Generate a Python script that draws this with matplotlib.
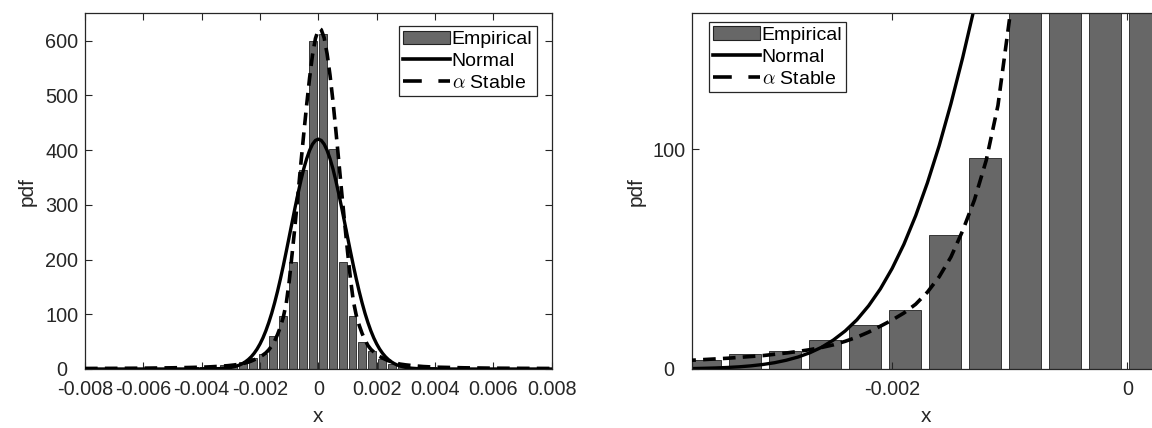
import numpy as np
import matplotlib
matplotlib.use('Agg')
import matplotlib.pyplot as plt
from matplotlib.patches import Patch
from matplotlib.lines import Line2D

plt.rcParams['font.family'] = ['Liberation Sans', 'DejaVu Sans']
plt.rcParams['axes.unicode_minus'] = False
plt.rcParams['mathtext.fontset'] = 'cm'

# histogram (empirical pdf)
bin_width = 0.00034
first_center = -0.00801
emp_pdf = [1, 1, 0.5, 1, 1.5, 1, 1.5, 2, 1.5, 2, 2.5, 3,
           3, 4, 7, 8, 13, 20, 27, 61, 96, 195, 364, 600,
           613, 402, 195, 97, 50, 33, 18, 10, 6, 4, 3, 3,
           2, 2, 1.5, 1.5, 1, 1, 1.5, 1, 1, 0.5, 1, 1]
bin_centers = first_center + bin_width * np.arange(len(emp_pdf))

# fitted normal pdf
norm_x = [-0.008, -0.006, -0.005, -0.004, -0.0037, -0.0036, -0.0035, -0.0034,
          -0.0033, -0.0032, -0.0031, -0.003, -0.0029, -0.0028, -0.0027,
          -0.0026, -0.0025, -0.0024, -0.0023, -0.0022, -0.0021, -0.002,
          -0.0019, -0.0018, -0.0017, -0.0016, -0.0015, -0.0014, -0.0013,
          -0.0012, -0.0011, -0.001, -0.0009, -0.0008, -0.0007, -0.0006,
          -0.0005, -0.0004, -0.0003, -0.0002, -0.0001, 0.0,
          0.0001, 0.0002, 0.0003, 0.0004, 0.0005, 0.0006, 0.0007, 0.0008,
          0.0009, 0.001, 0.0011, 0.0012, 0.0013, 0.0014, 0.0015, 0.0016,
          0.0017, 0.0018, 0.0019, 0.002, 0.0021, 0.0022, 0.0023, 0.0024,
          0.0025, 0.0026, 0.0027, 0.0028, 0.0029, 0.003, 0.0032, 0.0034,
          0.0036, 0.004, 0.005, 0.006, 0.008]
norm_pdf = [0, 0, 0, 0.06, 0.2, 0.32, 0.47, 0.7,
            1.0, 1.45, 2.05, 2.87, 4.0, 5.46, 7.4,
            9.9, 13.2, 17.3, 22.4, 28.8, 36.5, 45.8,
            56.8, 69.8, 84.8, 101.7, 120.8, 141.8, 164.7,
            189.1, 214.9, 241.4, 268, 294.6, 320, 344,
            366, 384.3, 399.5, 410.8, 417.7, 420,
            417.7, 410.8, 399.5, 384.3, 366, 344, 320, 294.6,
            268, 241.4, 214.9, 189.1, 164.7, 141.8, 120.8, 101.7,
            84.8, 69.8, 56.8, 45.8, 36.5, 28.8, 22.4, 17.3,
            13.2, 9.9, 7.4, 5.46, 4.0, 2.87, 1.45, 0.7,
            0.32, 0.06, 0, 0, 0]

# fitted alpha-stable pdf
stab_x = [-0.008, -0.007, -0.006, -0.005, -0.0045, -0.004, -0.0037, -0.0036,
          -0.0035, -0.0034, -0.0033, -0.0032, -0.0031, -0.003, -0.0029,
          -0.0028, -0.0027, -0.0026, -0.0025, -0.0024, -0.0023, -0.0022,
          -0.0021, -0.002, -0.0019, -0.0018, -0.0017, -0.0016, -0.0015,
          -0.0014, -0.0013, -0.0012, -0.0011, -0.001, -0.0009, -0.0008,
          -0.0007, -0.0006, -0.0005, -0.0004, -0.0003, -0.0002, -0.0001,
          0.0, 0.00005, 0.0001, 0.0002, 0.0003, 0.0004, 0.0005, 0.0006,
          0.0007, 0.0008, 0.0009, 0.001, 0.0011, 0.0012, 0.0013, 0.0014,
          0.0015, 0.0016, 0.0017, 0.0018, 0.002, 0.0022, 0.0024, 0.0026,
          0.0028, 0.003, 0.0033, 0.0036, 0.004, 0.005, 0.006, 0.007, 0.008]
stab_pdf = [1.0, 1.2, 1.5, 2.2, 2.7, 3.3, 4, 4.3,
            4.6, 4.9, 5.3, 5.7, 6.1, 6.7, 7.3,
            8.0, 8.8, 9.8, 11, 12.6, 14.5, 16.8,
            19.5, 22.3, 25.5, 29.5, 35, 42, 51,
            63, 77, 95, 120, 160, 210, 262,
            318, 375, 430, 483, 532, 574, 604,
            620, 622, 620, 605, 576, 537, 490, 436,
            380, 323, 268, 215, 165, 124, 98, 80,
            65, 53, 43, 36, 26, 20, 15, 11.5,
            9, 7.5, 5.8, 4.5, 3.4, 2.2, 1.5, 1.2, 1.0]

left_xticks = [-0.008, -0.006, -0.004, -0.002, 0, 0.002, 0.004, 0.006, 0.008]
left_xticklabels = ['-0.008', '-0.006', '-0.004', '-0.002', '0', '0.002', '0.004', '0.006', '0.008']
left_yticks = [0, 100, 200, 300, 400, 500, 600]
right_xticks = [-0.002, 0]
right_xticklabels = ['-0.002', '0']
right_yticks = [0, 100]

fig = plt.figure(figsize=(11.52, 4.28), dpi=100)
ax1 = fig.add_axes([85 / 1152, 59 / 428, 466.7 / 1152, 355.7 / 428])
ax2 = fig.add_axes([692.3 / 1152, 59 / 428, 466.7 / 1152, 355.7 / 428])

bar_color = '#676767'
spine_color = '#262626'
dash = (0, (3.5, 2.0))


def draw(ax):
    ax.bar(bin_centers, emp_pdf, width=0.8 * bin_width, color=bar_color,
           edgecolor='#222222', linewidth=0.6, zorder=1)
    ax.plot(norm_x, norm_pdf, color='black', linewidth=2.4, zorder=2)
    ax.plot(stab_x, stab_pdf, color='black', linewidth=2.6,
            linestyle=dash, zorder=3)
    for s in ax.spines.values():
        s.set_color(spine_color)
        s.set_linewidth(0.9)
    ax.tick_params(direction='in', top=True, right=True, length=5,
                   width=0.8, color=spine_color, labelsize=14.3,
                   labelcolor='#262626')
    ax.tick_params(axis='x', pad=8)
    ax.tick_params(axis='y', pad=16.8)
    ax.set_xlabel('x', fontsize=15, color='#262626', labelpad=6)
    ax.set_ylabel('pdf', fontsize=15, color='#262626')


draw(ax1)
ax1.set_xlim(-0.008, 0.008)
ax1.set_ylim(0, 650)
ax1.set_xticks(left_xticks)
ax1.set_xticklabels(left_xticklabels)
ax1.set_yticks(left_yticks)
ax1.yaxis.set_label_coords(-0.103, 0.5)

draw(ax2)
ax2.set_xlim(-0.0037, 0.00027)
ax2.set_ylim(0, 162)
ax2.set_xticks(right_xticks)
ax2.set_xticklabels(right_xticklabels)
ax2.set_yticks(right_yticks)
ax2.yaxis.set_label_coords(-0.099, 0.5)

for ax in (ax1, ax2):
    for lab in ax.get_yticklabels():
        lab.set_horizontalalignment('center')

handles = [Patch(facecolor=bar_color, edgecolor='#222222', linewidth=0.8),
           Line2D([], [], color='black', linewidth=2.6),
           Line2D([], [], color='black', linewidth=2.6, linestyle=(0, (5.2, 4.6)))]
labels = ['Empirical', 'Normal', r'$\alpha$ Stable']

for ax, loc, bbox in [(ax1, 'upper right', (0.968, 0.963)),
                      (ax2, 'upper left', (0.035, 0.975))]:
    leg = ax.legend(handles, labels, loc=loc, bbox_to_anchor=bbox,
                    fontsize=14, fancybox=False, framealpha=1,
                    edgecolor='#262626', handlelength=2.4,
                    handletextpad=0.1, labelspacing=0.22, borderpad=0.22,
                    borderaxespad=0.0)
    leg.get_frame().set_linewidth(0.9)

fig.savefig('out.png', dpi=100)
